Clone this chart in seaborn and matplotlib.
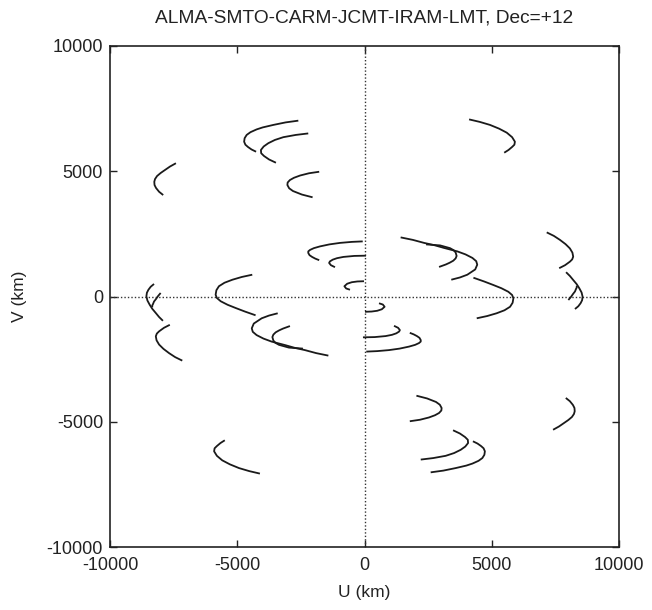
import matplotlib
matplotlib.use("Agg")
import matplotlib.pyplot as plt
import seaborn as sns
import pandas as pd

# uv tracks (km) for one half of the plane; the other half is the conjugate (-u, -v)
A1_u = [-2600, -3100, -3580, -4000, -4240, -4480, -4630, -4710, -4730, -4680, -4580, -4440, -4260]
A1_v = [7020, 6950, 6850, 6750, 6670, 6560, 6450, 6320, 6180, 6060, 5970, 5870, 5780]
A2_u = [-2210, -2700, -3190, -3520, -3780, -3960, -4070, -4060, -3950, -3750, -3480]
A2_v = [6510, 6450, 6360, 6250, 6120, 5990, 5850, 5720, 5610, 5470, 5340]
A3_u = [-1780, -2180, -2530, -2770, -2930, -3020, -3030, -2960, -2810, -2460, -2040]
A3_v = [4980, 4920, 4830, 4740, 4650, 4550, 4450, 4320, 4210, 4070, 3960]
A4_u = [-7410, -7640, -7840, -8010, -8150, -8230, -8260, -8250, -8190, -8070, -7910]
A4_v = [5320, 5190, 5050, 4930, 4810, 4690, 4580, 4450, 4330, 4180, 4050]
A5_u = [4110, 4530, 4930, 5290, 5590, 5800, 5910, 5890, 5800, 5660, 5490]
A5_v = [7070, 6970, 6850, 6700, 6540, 6360, 6180, 6060, 5970, 5850, 5740]
C1_u = [-70, -500, -960, -1380, -1750, -1990, -2140, -2210, -2210, -2160, -2060, -1930, -1780]
C1_v = [2200, 2180, 2140, 2080, 2000, 1930, 1860, 1800, 1740, 1650, 1580, 1510, 1450]
C2_u = [60, -400, -830, -1080, -1250, -1360, -1390, -1320, -1160]
C2_v = [1630, 1620, 1580, 1530, 1470, 1400, 1340, 1250, 1170]
C3_u = [-20, -280, -500, -680, -790, -720, -570]
C3_v = [610, 600, 570, 510, 410, 320, 270]
C7_u = [1420, 1900, 2340, 2740, 3120, 3650, 3970, 4240, 4390, 4430, 4350, 4040, 3750, 3410]
C7_v = [2360, 2260, 2140, 2050, 1940, 1800, 1680, 1540, 1410, 1270, 1080, 870, 760, 670]
C8_u = [2420, 2970, 3360, 3500, 3580, 3620, 3580, 3490, 3350, 3200, 2930]
C8_v = [2080, 2040, 1930, 1850, 1760, 1620, 1520, 1430, 1350, 1280, 1180]
D3_u = [4280, 4700, 5060, 5380, 5650, 5800, 5850, 5820, 5720, 5500, 5190, 4820, 4410]
D3_v = [750, 600, 460, 330, 190, 60, -70, -250, -410, -550, -670, -780, -870]
D4_u = [7160, 7440, 7680, 7900, 8070, 8170, 8200, 8160, 8070, 7880, 7650]
D4_v = [2560, 2420, 2260, 2090, 1920, 1750, 1590, 1480, 1390, 1250, 1130]
D5_u = [7920, 8070, 8200, 8340, 8440, 8530, 8570, 8550, 8490, 8400, 8270]
D5_v = [970, 820, 660, 490, 330, 160, -10, -150, -270, -390, -500]
D6_u = [8340, 8340, 8310, 8270, 8200, 8110, 8010]
D6_v = [430, 360, 300, 200, 110, -20, -140]

tracks = {
    "A1": (A1_u, A1_v), "A2": (A2_u, A2_v), "A3": (A3_u, A3_v),
    "A4": (A4_u, A4_v), "A5": (A5_u, A5_v), "C1": (C1_u, C1_v),
    "C2": (C2_u, C2_v), "C3": (C3_u, C3_v), "C7": (C7_u, C7_v),
    "C8": (C8_u, C8_v), "D3": (D3_u, D3_v), "D4": (D4_u, D4_v),
    "D5": (D5_u, D5_v), "D6": (D6_u, D6_v),
}

rows = []
for name, (us, vs) in tracks.items():
    for i, (u, v) in enumerate(zip(us, vs)):
        rows.append({"arc": name, "i": i, "u": u, "v": v})
        rows.append({"arc": name + "c", "i": i, "u": -u, "v": -v})
df = pd.DataFrame(rows)

sns.set_theme(style="white")
plt.rcParams["font.family"] = ["Liberation Sans", "DejaVu Sans"]

fig = plt.figure(figsize=(6.52, 6.10), dpi=100)
ax = fig.add_axes([110 / 652, 1 - 547 / 610, 509 / 652, 501 / 610])

ax.axhline(0, color="#333333", lw=1.0, ls=(0, (1, 1.5)), zorder=1)
ax.axvline(0, color="#333333", lw=1.0, ls=(0, (1, 1.5)), zorder=1)

sns.lineplot(data=df, x="u", y="v", units="arc", estimator=None, sort=False,
             color="#1a1a1a", lw=1.3, ax=ax, legend=False, zorder=3,
             solid_joinstyle="round", solid_capstyle="butt")

ax.set_xlim(-10000, 10000)
ax.set_ylim(-10000, 10000)
ticks = [-10000, -5000, 0, 5000, 10000]
ax.set_xticks(ticks)
ax.set_yticks(ticks)
ax.set_xticklabels([str(t) for t in ticks])
ax.set_yticklabels([str(t) for t in ticks])
ax.tick_params(direction="in", length=5, width=1.0, color="#222222",
               top=True, right=True, bottom=True, left=True,
               labelsize=13, labelcolor="#222222")
ax.tick_params(axis="x", pad=7)
ax.tick_params(axis="y", pad=5)
for s in ax.spines.values():
    s.set_color("#222222")
    s.set_linewidth(1.2)
    s.set_visible(True)

ax.set_xlabel("U (km)", fontsize=12.5, color="#222222", labelpad=8)
ax.set_ylabel("V (km)", fontsize=12.5, color="#222222", labelpad=14)
ax.set_title("ALMA-SMTO-CARM-JCMT-IRAM-LMT, Dec=+12", fontsize=13.8,
             color="#222222", pad=17)

fig.savefig("out.png", dpi=100, facecolor="white")
